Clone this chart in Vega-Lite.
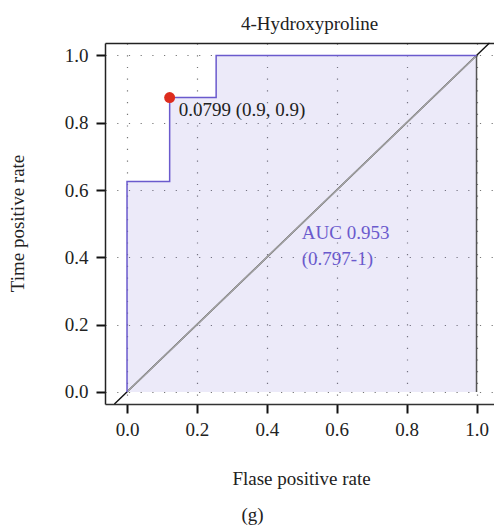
{
  "$schema": "https://vega.github.io/schema/vega-lite/v6.json",
  "width": 389,
  "height": 361,
  "autosize": {"type": "none"},
  "padding": {"left": 105, "top": 43, "right": 0, "bottom": 122},
  "config": {"view": {"stroke": null}, "font": "Liberation Serif"},
  "title": {"text": "(g)", "orient": "bottom", "anchor": "middle", "frame": "group", "dx": -47, "offset": 18, "fontSize": 19, "font": "Liberation Serif", "fontWeight": "normal", "color": "#222"},
  "datasets": {
    "roc": [
      {"i": 0, "fpr": 0, "tpr": 0, "base": 0},
      {"i": 1, "fpr": 0, "tpr": 0.625, "base": 0},
      {"i": 2, "fpr": 0.122, "tpr": 0.625, "base": 0},
      {"i": 3, "fpr": 0.122, "tpr": 0.875, "base": 0},
      {"i": 4, "fpr": 0.255, "tpr": 0.875, "base": 0},
      {"i": 5, "fpr": 0.255, "tpr": 1, "base": 0},
      {"i": 6, "fpr": 1, "tpr": 1, "base": 0}
    ],
    "edge": [
      {"i": 0, "fpr": 1, "tpr": 1},
      {"i": 1, "fpr": 1, "tpr": 0}
    ],
    "diagOuter": [
      {"i": 0, "fpr": -0.036, "tpr": -0.036},
      {"i": 1, "fpr": 1.037, "tpr": 1.037}
    ],
    "diag": [
      {"i": 0, "fpr": 0, "tpr": 0},
      {"i": 1, "fpr": 1, "tpr": 1}
    ],
    "best": [
      {"fpr": 0.122, "tpr": 0.875, "label": "0.0799 (0.9, 0.9)"}
    ],
    "auc": [
      {"fpr": 0.5, "tpr": 0.5, "label": "AUC 0.953\n(0.797-1)"}
    ]
  },
  "layer": [
    {
      "data": {"name": "roc"},
      "mark": {"type": "area", "fill": "#6a5acd", "fillOpacity": 0.13, "orient": "vertical"},
      "encoding": {
        "x": {"field": "fpr", "type": "quantitative",
          "scale": {"domain": [-0.063, 1.05], "nice": false, "zero": false},
          "axis": {"orient": "bottom", "values": [0, 0.2, 0.4, 0.6, 0.8, 1], "format": ".1f",
            "domainColor": "#333", "domainWidth": 1.5, "tickColor": "#111", "tickWidth": 2, "tickSize": 9,
            "labelFontSize": 19, "labelColor": "#222", "labelPadding": 7, "labelFont": "Liberation Serif",
            "grid": true, "gridDash": [1.2, 10.5], "gridColor": "#777", "gridWidth": 1.2,
            "title": "Flase positive rate", "titleFont": "Liberation Serif", "titleFontSize": 19, "titleFontWeight": "normal", "titleColor": "#222",
            "titleX": 196, "titleY": 80, "titleBaseline": "alphabetic", "titleAlign": "center"}},
        "y": {"field": "tpr", "type": "quantitative",
          "scale": {"domain": [-0.036, 1.037], "nice": false, "zero": false},
          "axis": {"orient": "left", "values": [0, 0.2, 0.4, 0.6, 0.8, 1], "format": ".1f",
            "domainColor": "#222", "domainWidth": 1.5, "tickColor": "#111", "tickWidth": 2, "tickSize": 9,
            "labelFontSize": 19, "labelColor": "#222", "labelPadding": 8, "labelFont": "Liberation Serif",
            "grid": true, "gridDash": [1.2, 10.5], "gridColor": "#777", "gridWidth": 1.2,
            "title": "Time positive rate", "titleFont": "Liberation Serif", "titleFontSize": 19, "titleFontWeight": "normal", "titleColor": "#222",
            "titleX": -82, "titleY": 180, "titleBaseline": "alphabetic", "titleAlign": "center", "titleAngle": -90}},
        "y2": {"field": "base"}
      }
    },
    {
      "data": {"name": "diagOuter"},
      "mark": {"type": "line", "color": "#111", "strokeWidth": 1.4},
      "encoding": {
        "x": {"field": "fpr", "type": "quantitative", "axis": null},
        "y": {"field": "tpr", "type": "quantitative"},
        "order": {"field": "i", "type": "quantitative"}
      }
    },
    {
      "data": {"name": "diag"},
      "mark": {"type": "line", "color": "#a8a8a8", "strokeWidth": 1.4},
      "encoding": {
        "x": {"field": "fpr", "type": "quantitative", "axis": null},
        "y": {"field": "tpr", "type": "quantitative"},
        "order": {"field": "i", "type": "quantitative"}
      }
    },
    {
      "data": {"name": "edge"},
      "mark": {"type": "line", "color": "#555", "strokeWidth": 1.5},
      "encoding": {
        "x": {"field": "fpr", "type": "quantitative", "axis": null},
        "y": {"field": "tpr", "type": "quantitative"},
        "order": {"field": "i", "type": "quantitative"}
      }
    },
    {
      "data": {"name": "roc"},
      "mark": {"type": "line", "color": "#6a5acd", "strokeWidth": 1.5},
      "encoding": {
        "x": {"field": "fpr", "type": "quantitative", "axis": null},
        "y": {"field": "tpr", "type": "quantitative"},
        "order": {"field": "i", "type": "quantitative"}
      }
    },
    {
      "data": {"name": "best"},
      "mark": {"type": "point", "filled": true, "color": "#dd2c1e", "size": 120, "opacity": 1},
      "encoding": {
        "x": {"field": "fpr", "type": "quantitative",
          "axis": {"orient": "top", "domain": true, "domainColor": "#222", "domainWidth": 1.5, "ticks": false, "labels": false, "grid": false,
            "title": "4-Hydroxyproline", "titleFont": "Liberation Serif", "titleFontSize": 19, "titleFontWeight": "normal", "titleColor": "#222",
            "titleX": 204, "titleY": -14, "titleBaseline": "alphabetic", "titleAlign": "center"}},
        "y": {"field": "tpr", "type": "quantitative"}
      }
    },
    {
      "data": {"name": "best"},
      "mark": {"type": "text", "align": "left", "baseline": "top", "dx": 9, "dy": 3, "fontSize": 19, "font": "Liberation Serif", "color": "#222"},
      "encoding": {
        "x": {"field": "fpr", "type": "quantitative", "axis": null},
        "y": {"field": "tpr", "type": "quantitative"},
        "text": {"field": "label"}
      }
    },
    {
      "data": {"name": "auc"},
      "mark": {"type": "text", "align": "left", "baseline": "top", "lineBreak": "\n", "lineHeight": 26, "fontSize": 19, "font": "Liberation Serif", "color": "#6a5acd"},
      "encoding": {
        "x": {"field": "fpr", "type": "quantitative", "axis": null},
        "y": {"field": "tpr", "type": "quantitative"},
        "text": {"field": "label"}
      }
    }
  ],
  "resolve": {"axis": {"x": "independent"}}
}
